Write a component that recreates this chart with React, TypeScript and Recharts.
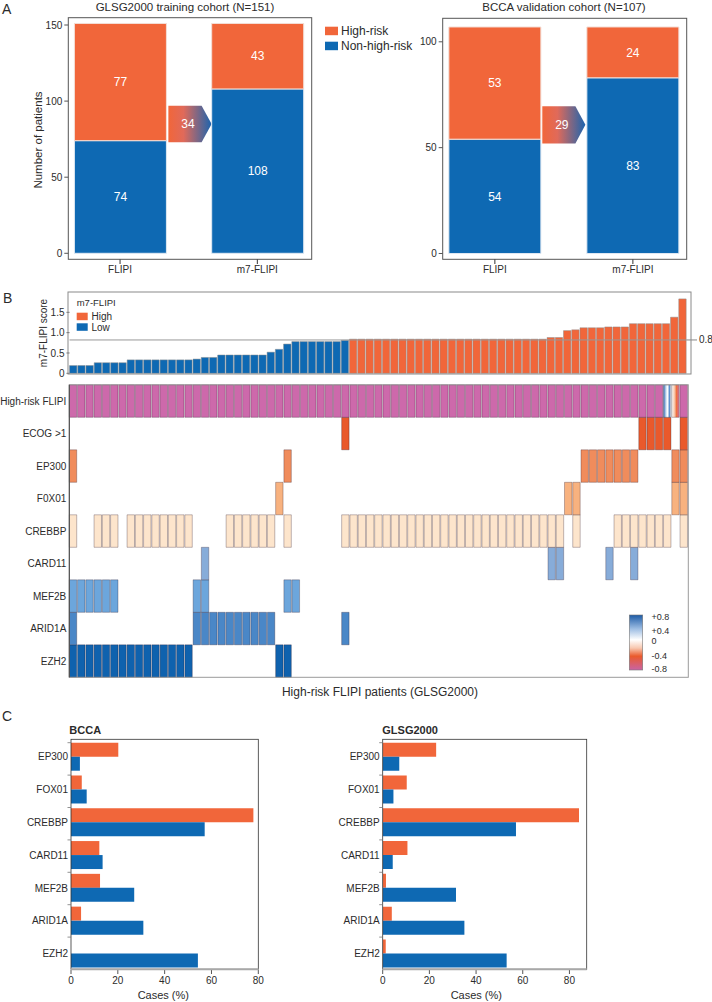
import React from 'react';
import { BarChart, Bar, XAxis, YAxis, Cell, LabelList, ReferenceArea, ReferenceLine } from 'recharts';

const FONT = '"Liberation Sans", Arial, Helvetica, sans-serif';
const ORANGE = '#f1663a';
const BLUE = '#0e69b3';
const TEXT = '#2b2b2b';

// ---------------- Panel A data ----------------
const riskCategories = ['FLIPI', 'm7-FLIPI'];
const riskPositions = [1, 2];
const glsgHighRisk = [77, 43];
const glsgNonHighRisk = [74, 108];
const glsgReclassified = 34;
const bccaHighRisk = [53, 24];
const bccaNonHighRisk = [54, 83];
const bccaReclassified = 29;
const glsgArrowSpan = [73, 97];
const bccaArrowSpan = [52, 69.6];

// ---------------- Panel B data ----------------
const m7FlipiScores = [
  0.19, 0.19, 0.19,
  0.26, 0.26, 0.26, 0.26,
  0.33, 0.33, 0.33, 0.33, 0.33, 0.33, 0.33, 0.33,
  0.35,
  0.39, 0.39,
  0.45, 0.45, 0.45, 0.45, 0.45, 0.45,
  0.52, 0.59, 0.72,
  0.78, 0.78, 0.78, 0.78, 0.78, 0.78,
  0.81,
  0.84, 0.84, 0.84, 0.84, 0.84, 0.84, 0.84, 0.84, 0.84, 0.84, 0.84, 0.84,
  0.84, 0.84, 0.84, 0.84, 0.84, 0.84, 0.84, 0.84, 0.84, 0.84, 0.84, 0.84,
  0.88, 0.88,
  1.05, 1.07,
  1.12, 1.12, 1.12,
  1.14, 1.14, 1.14,
  1.22, 1.22, 1.22, 1.22, 1.22,
  1.38, 1.83,
];
const m7Threshold = 0.82;
const scoreTicks = [0, 0.5, 1.0, 1.5];

const stripedHighRiskCols = [72, 73];
const ecogCols = [33, 69, 70, 71, 72, 74];
const ep300Cols = [0, 26, 62, 63, 64, 65, 66, 67, 68, 73, 74];
const foxo1Cols = [25, 60, 61, 73, 74];
const crebbpCols = [0, 3, 4, 5, 7, 8, 9, 10, 11, 12, 13, 14, 19, 20, 21, 22, 23, 24, 26,
  33, 34, 35, 36, 37, 38, 39, 40, 41, 42, 43, 44, 45, 46, 47, 48, 49, 50, 51, 52, 53, 54, 55, 56, 57, 58, 59,
  61, 66, 67, 68, 69, 70, 71, 72, 74];
const card11Cols = [16, 58, 59, 65, 68];
const mef2bCols = [0, 1, 2, 3, 4, 5, 15, 16, 26, 27];
const arid1aCols = [0, 15, 16, 17, 18, 19, 20, 21, 22, 23, 24, 33];
const ezh2Cols = [0, 1, 2, 3, 4, 5, 6, 7, 8, 9, 10, 11, 12, 13, 14, 25, 26];

const patientIds = m7FlipiScores.map((_, i) => i);

// bottom to top
const heatRows = [
  { key: 'ezh2', label: 'EZH2', color: '#0f62ae', cols: ezh2Cols },
  { key: 'arid1a', label: 'ARID1A', color: '#4a87c7', cols: arid1aCols },
  { key: 'mef2b', label: 'MEF2B', color: '#6ca6dc', cols: mef2bCols },
  { key: 'card11', label: 'CARD11', color: '#87acd9', cols: card11Cols },
  { key: 'crebbp', label: 'CREBBP', color: '#fde5cc', cols: crebbpCols },
  { key: 'foxo1', label: 'F0X01', color: '#f8b27f', cols: foxo1Cols },
  { key: 'ep300', label: 'EP300', color: '#f08c5c', cols: ep300Cols },
  { key: 'ecog', label: 'ECOG >1', color: '#e9592b', cols: ecogCols },
  { key: 'hrflipi', label: 'High-risk FLIPI', color: '#cd69ab', cols: patientIds },
];
const heatTicks = [0.5, 1.5, 2.5, 3.5, 4.5, 5.5, 6.5, 7.5, 8.5];

// ---------------- Panel C data ----------------
const genes = ['EP300', 'FOX01', 'CREBBP', 'CARD11', 'MEF2B', 'ARID1A', 'EZH2'];
const bccaHighPct = [20.2, 4.6, 77.9, 12.1, 12.4, 4.3, 0];
const bccaLowPct = [3.8, 6.7, 57.1, 13.5, 27.0, 30.9, 54.2];
const glsgHighPct = [22.9, 10.3, 84.1, 10.6, 1.4, 3.9, 1.3];
const glsgLowPct = [7.1, 4.6, 57.1, 4.3, 31.4, 35.0, 53.1];
const pctTicks = [0, 20, 40, 60, 80];

// ---------------- components ----------------
const arrowShape = (id: string, label: number) => (props: any) => {
  const { x, y, width, height } = props;
  const notch = 10;
  const d = `M${x},${y} L${x + width - notch},${y} L${x + width},${y + height / 2} L${x + width - notch},${y + height} L${x},${y + height} Z`;
  return (
    <g>
      <defs>
        <linearGradient id={id} x1="0" y1="0" x2="1" y2="0">
          <stop offset="0" stopColor={ORANGE} />
          <stop offset="0.35" stopColor="#e06a5a" />
          <stop offset="1" stopColor="#1c64ae" />
        </linearGradient>
      </defs>
      <path d={d} fill={`url(#${id})`} />
      <text x={x + (width - notch) / 2 + 3} y={y + height / 2 + 4} fill="#fff" fontSize={12} textAnchor="middle">{label}</text>
    </g>
  );
};

const HeatTick = (props: any) => {
  const { x, y, payload } = props;
  return (
    <text x={x} y={y} dy={3.5} textAnchor="end" fontSize={10} fill={TEXT} fontFamily={FONT}>
      {heatRows[Math.floor(payload.value)].label}
    </text>
  );
};

const thresholdLabel = (props: any) => {
  const vb = props.viewBox || {};
  const x = (vb.x || 0) + (vb.width || 0);
  const y = vb.y || 0;
  return (
    <g>
      <line x1={x} y1={y} x2={x + 10} y2={y} stroke="#888" strokeWidth={1} />
      <text x={x + 12} y={y + 3.5} fontSize={10} fill={TEXT} fontFamily={FONT}>{m7Threshold.toFixed(1)}</text>
    </g>
  );
};

function CohortChart(p: any) {
  const data = riskCategories.map((name, i) => ({ pos: riskPositions[i], name, high: p.high[i], low: p.low[i] }));
  return (
    <div style={{ position: 'absolute', left: p.left, top: 0 }}>
      <BarChart width={p.width} height={285} data={data} margin={{ top: p.top, right: p.right, bottom: 6, left: 0 }}>
        <XAxis type="number" dataKey="pos" domain={p.xDomain} ticks={riskPositions} allowDataOverflow
          tickFormatter={(v: number) => riskCategories[v - 1]} axisLine={false} tickSize={5}
          tickLine={{ stroke: '#333' }} tick={{ fill: TEXT, fontSize: 10 }} height={20} />
        <YAxis type="number" domain={p.yDomain} ticks={p.yTicks} allowDataOverflow width={p.yWidth}
          axisLine={false} tickSize={4} tickLine={{ stroke: '#555' }} tick={{ fill: TEXT, fontSize: 10 }} />
        <Bar dataKey="low" stackId="a" fill={BLUE} stroke="#dfe8f2" strokeWidth={1} barSize={92} isAnimationActive={false}>
          <LabelList dataKey="low" position="center" fill="#fff" fontSize={12} />
        </Bar>
        <Bar dataKey="high" stackId="a" fill={ORANGE} stroke="#f3ded6" strokeWidth={1} barSize={92} isAnimationActive={false}>
          <LabelList dataKey="high" position="center" fill="#fff" fontSize={12} />
        </Bar>
        <ReferenceArea x1={p.arrowX[0]} x2={p.arrowX[1]} y1={p.arrowY[0]} y2={p.arrowY[1]}
          shape={arrowShape(p.gradId, p.reclassified)} />
      </BarChart>
    </div>
  );
}

function ScoreChart() {
  const data = m7FlipiScores.map((s, i) => ({ id: i, score: s }));
  const cellW = (687 - 69.5) / m7FlipiScores.length;
  return (
    <div style={{ position: 'absolute', left: 0, top: 280 }}>
      <BarChart width={712} height={100} data={data} barCategoryGap={0} margin={{ top: 12, right: 25, bottom: 6.7, left: 0 }}>
        <XAxis dataKey="id" hide />
        <YAxis type="number" domain={[0, 2]} ticks={scoreTicks} width={69.5} axisLine={false}
          tickSize={3} tickLine={{ stroke: '#666' }} tick={{ fill: TEXT, fontSize: 10 }}
          tickFormatter={(v: number) => (v === 0 ? '0' : v.toFixed(1))} />
        <ReferenceLine y={m7Threshold} stroke="#999" strokeWidth={1} label={thresholdLabel} />
        <Bar dataKey="score" barSize={cellW} isAnimationActive={false}>
          {data.map((d, i) => (
            <Cell key={i} fill={d.score > m7Threshold ? ORANGE : BLUE} stroke="#8d8d8d" strokeWidth={0.5} />
          ))}
        </Bar>
      </BarChart>
    </div>
  );
}

function Heatmap() {
  const data = patientIds.map((i) => {
    const o: any = { id: i };
    heatRows.forEach((r) => { o[r.key] = 1; });
    return o;
  });
  const cellW = (688.3 - 69.3) / patientIds.length;
  const fillFor = (r: any, i: number) => {
    if (!r.cols.includes(i)) return 'none';
    if (r.key === 'hrflipi' && stripedHighRiskCols.includes(i)) return i === stripedHighRiskCols[0] ? 'url(#stripeA)' : 'url(#stripeB)';
    return r.color;
  };
  return (
    <div style={{ position: 'absolute', left: 0, top: 380 }}>
      <BarChart width={712} height={300} data={data} barCategoryGap={0} margin={{ top: 4.8, right: 23.7, bottom: 2.7, left: 0 }}>
        <defs>
          <linearGradient id="stripeA" x1="0" y1="0" x2="1" y2="0">
            <stop offset="0" stopColor="#2f6cb4" />
            <stop offset="0.35" stopColor="#cfe0f2" />
            <stop offset="0.55" stopColor="#ffffff" />
            <stop offset="0.8" stopColor="#5b8fcc" />
            <stop offset="1" stopColor="#ffffff" />
          </linearGradient>
          <linearGradient id="stripeB" x1="0" y1="0" x2="1" y2="0">
            <stop offset="0" stopColor="#ffffff" />
            <stop offset="0.4" stopColor="#f7c0a0" />
            <stop offset="0.65" stopColor="#ee6a3a" />
            <stop offset="1" stopColor="#d27aa8" />
          </linearGradient>
        </defs>
        <XAxis dataKey="id" hide />
        <YAxis type="number" domain={[0, 9]} ticks={heatTicks} width={69.3} axisLine={false} tickLine={false}
          tickSize={1} tickMargin={2} tick={<HeatTick />} />
        {heatRows.map((r) => (
          <Bar key={r.key} dataKey={r.key} stackId="h" barSize={cellW} isAnimationActive={false}>
            {data.map((d, i) => {
              const f = fillFor(r, i);
              return <Cell key={i} fill={f} stroke={f === 'none' ? 'none' : 'rgba(45,25,40,0.5)'} strokeWidth={0.6} />;
            })}
          </Bar>
        ))}
      </BarChart>
    </div>
  );
}

function MutationChart(p: any) {
  const data = genes.map((g, i) => ({ gene: g, high: p.high[i], low: p.low[i] }));
  return (
    <div style={{ position: 'absolute', left: p.left, top: 725 }}>
      <BarChart layout="vertical" width={p.width} height={265} data={data} barGap={0} barCategoryGap={2.2}
        margin={{ top: 15.5, right: p.right, bottom: 0, left: 0 }}>
        <XAxis type="number" domain={p.xDomain} ticks={pctTicks} allowDataOverflow height={20} axisLine={false}
          tickSize={4} tickMargin={3} tickLine={{ stroke: '#555' }} tick={{ fill: TEXT, fontSize: 10 }} />
        <YAxis type="category" dataKey="gene" width={p.yWidth} axisLine={false} tickLine={false}
          tickSize={1} tickMargin={2} tick={{ fill: TEXT, fontSize: 10 }} />
        <Bar dataKey="high" fill={ORANGE} isAnimationActive={false} />
        <Bar dataKey="low" fill={BLUE} isAnimationActive={false} />
      </BarChart>
    </div>
  );
}

function Overlay() {
  const t = { fontFamily: FONT, fill: TEXT } as any;
  const bandTicks = [742.7, 775.1, 807.5, 839.9, 872.3, 904.7, 937.1];
  return (
    <svg width={712} height={1002} style={{ position: 'absolute', left: 0, top: 0, pointerEvents: 'none' }}>
      <defs>
        <linearGradient id="cbar" x1="0" y1="0" x2="0" y2="1">
          <stop offset="0" stopColor="#1d5ba6" />
          <stop offset="0.25" stopColor="#9dbde3" />
          <stop offset="0.45" stopColor="#ffffff" />
          <stop offset="0.6" stopColor="#f8c8b0" />
          <stop offset="0.75" stopColor="#ea5a2c" />
          <stop offset="1" stopColor="#c963a4" />
        </linearGradient>
      </defs>
      {/* Panel letters */}
      <text x={2} y={14} fontSize={14} {...t}>A</text>
      <text x={3} y={303} fontSize={14} {...t}>B</text>
      <text x={2} y={721} fontSize={14} {...t}>C</text>

      {/* Panel A */}
      <text x={185} y={11} fontSize={11.5} textAnchor="middle" {...t}>GLSG2000 training cohort (N=151)</text>
      <text x={564} y={11} fontSize={11.5} textAnchor="middle" {...t}>BCCA validation cohort (N=107)</text>
      <rect x={68.3} y={17.7} width={243.4} height={241.6} fill="none" stroke="#555" strokeWidth={1} />
      <rect x={442.7} y={18.3} width={244} height={241} fill="none" stroke="#555" strokeWidth={1} />
      <text transform="translate(42,140) rotate(-90)" fontSize={11.5} textAnchor="middle" {...t}>Number of patients</text>
      <rect x={325} y={26.7} width={13} height={8.5} fill={ORANGE} />
      <text x={341} y={35} fontSize={12} {...t}>High-risk</text>
      <rect x={325} y={41.7} width={13} height={8.5} fill={BLUE} />
      <text x={341} y={50} fontSize={12} {...t}>Non-high-risk</text>

      {/* Panel B top */}
      <rect x={68} y={292} width={623} height={82} fill="none" stroke="#8a8a8a" strokeWidth={1} />
      <text transform="translate(47,333) rotate(-90)" fontSize={10} textAnchor="middle" {...t}>m7-FLIPI score</text>
      <text x={76.7} y={306} fontSize={9.5} {...t}>m7-FLIPI</text>
      <rect x={76.7} y={312.7} width={11} height={7.5} fill={ORANGE} />
      <text x={91.5} y={320} fontSize={10} {...t}>High</text>
      <rect x={76.7} y={323.3} width={11} height={7.5} fill={BLUE} />
      <text x={91.5} y={331} fontSize={10} {...t}>Low</text>

      {/* Panel B heatmap */}
      <rect x={69.3} y={384.8} width={619} height={292.5} fill="none" stroke="#9a9a9a" strokeWidth={1} />
      <line x1={69.3} y1={384.8} x2={69.3} y2={677.3} stroke="#444" strokeWidth={1} />
      <text x={380} y={696} fontSize={12} textAnchor="middle" {...t}>High-risk FLIPI patients (GLSG2000)</text>
      <rect x={629.3} y={615} width={13.4} height={55} fill="url(#cbar)" stroke="#777" strokeWidth={0.6} />
      <text x={651.5} y={619.5} fontSize={9} {...t}>+0.8</text>
      <text x={651.5} y={633.5} fontSize={9} {...t}>+0.4</text>
      <text x={651.5} y={644} fontSize={9} {...t}>0</text>
      <text x={651.5} y={659} fontSize={9} {...t}>-0.4</text>
      <text x={651.5} y={671.5} fontSize={9} {...t}>-0.8</text>

      {/* Panel C */}
      <text x={69.3} y={734} fontSize={11} fontWeight="bold" {...t}>BCCA</text>
      <text x={382.3} y={734} fontSize={11} fontWeight="bold" {...t}>GLSG2000</text>
      <rect x={71} y={739.3} width={187.3} height={230} fill="none" stroke="#333" strokeWidth={0.8} />
      <line x1={71} y1={969.3} x2={258.3} y2={969.3} stroke="#a8a8a8" strokeWidth={2} />
      <rect x={382.7} y={739.3} width={204} height={230} fill="none" stroke="#333" strokeWidth={0.8} />
      <line x1={382.7} y1={969.3} x2={586.7} y2={969.3} stroke="#a8a8a8" strokeWidth={2} />
      {bandTicks.map((y, i) => (
        <g key={i}>
          <line x1={67.5} y1={y} x2={71} y2={y} stroke="#777" strokeWidth={0.8} />
          <line x1={379.2} y1={y} x2={382.7} y2={y} stroke="#777" strokeWidth={0.8} />
        </g>
      ))}
      <text x={163.3} y={999} fontSize={11} textAnchor="middle" {...t}>Cases (%)</text>
      <text x={476.3} y={999} fontSize={11} textAnchor="middle" {...t}>Cases (%)</text>
    </svg>
  );
}

export default function App() {
  return (
    <div style={{ position: 'absolute', left: 0, top: 0, width: 712, height: 1002, background: '#fff', fontFamily: FONT, overflow: 'hidden' }}>
      <CohortChart left={0} width={330} top={17.7} right={18.3} yWidth={68.3}
        xDomain={[0.623, 2.396]} yDomain={[-3.75, 154.8]} yTicks={[0, 50, 100, 150]}
        high={glsgHighRisk} low={glsgNonHighRisk} reclassified={glsgReclassified}
        arrowX={[1.352, 1.667]} arrowY={glsgArrowSpan} gradId="arrowGlsg" />
      <CohortChart left={360} width={345} top={18.3} right={18.3} yWidth={82.7}
        xDomain={[0.622, 2.39]} yDomain={[-2.6, 111.1]} yTicks={[0, 50, 100]}
        high={bccaHighRisk} low={bccaNonHighRisk} reclassified={bccaReclassified}
        arrowX={[1.344, 1.656]} arrowY={bccaArrowSpan} gradId="arrowBcca" />
      <ScoreChart />
      <Heatmap />
      <MutationChart left={0} width={270} right={11.7} yWidth={71} xDomain={[0, 80]} high={bccaHighPct} low={bccaLowPct} />
      <MutationChart left={310} width={290} right={13.3} yWidth={72.7} xDomain={[0, 87.4]} high={glsgHighPct} low={glsgLowPct} />
      <Overlay />
    </div>
  );
}
